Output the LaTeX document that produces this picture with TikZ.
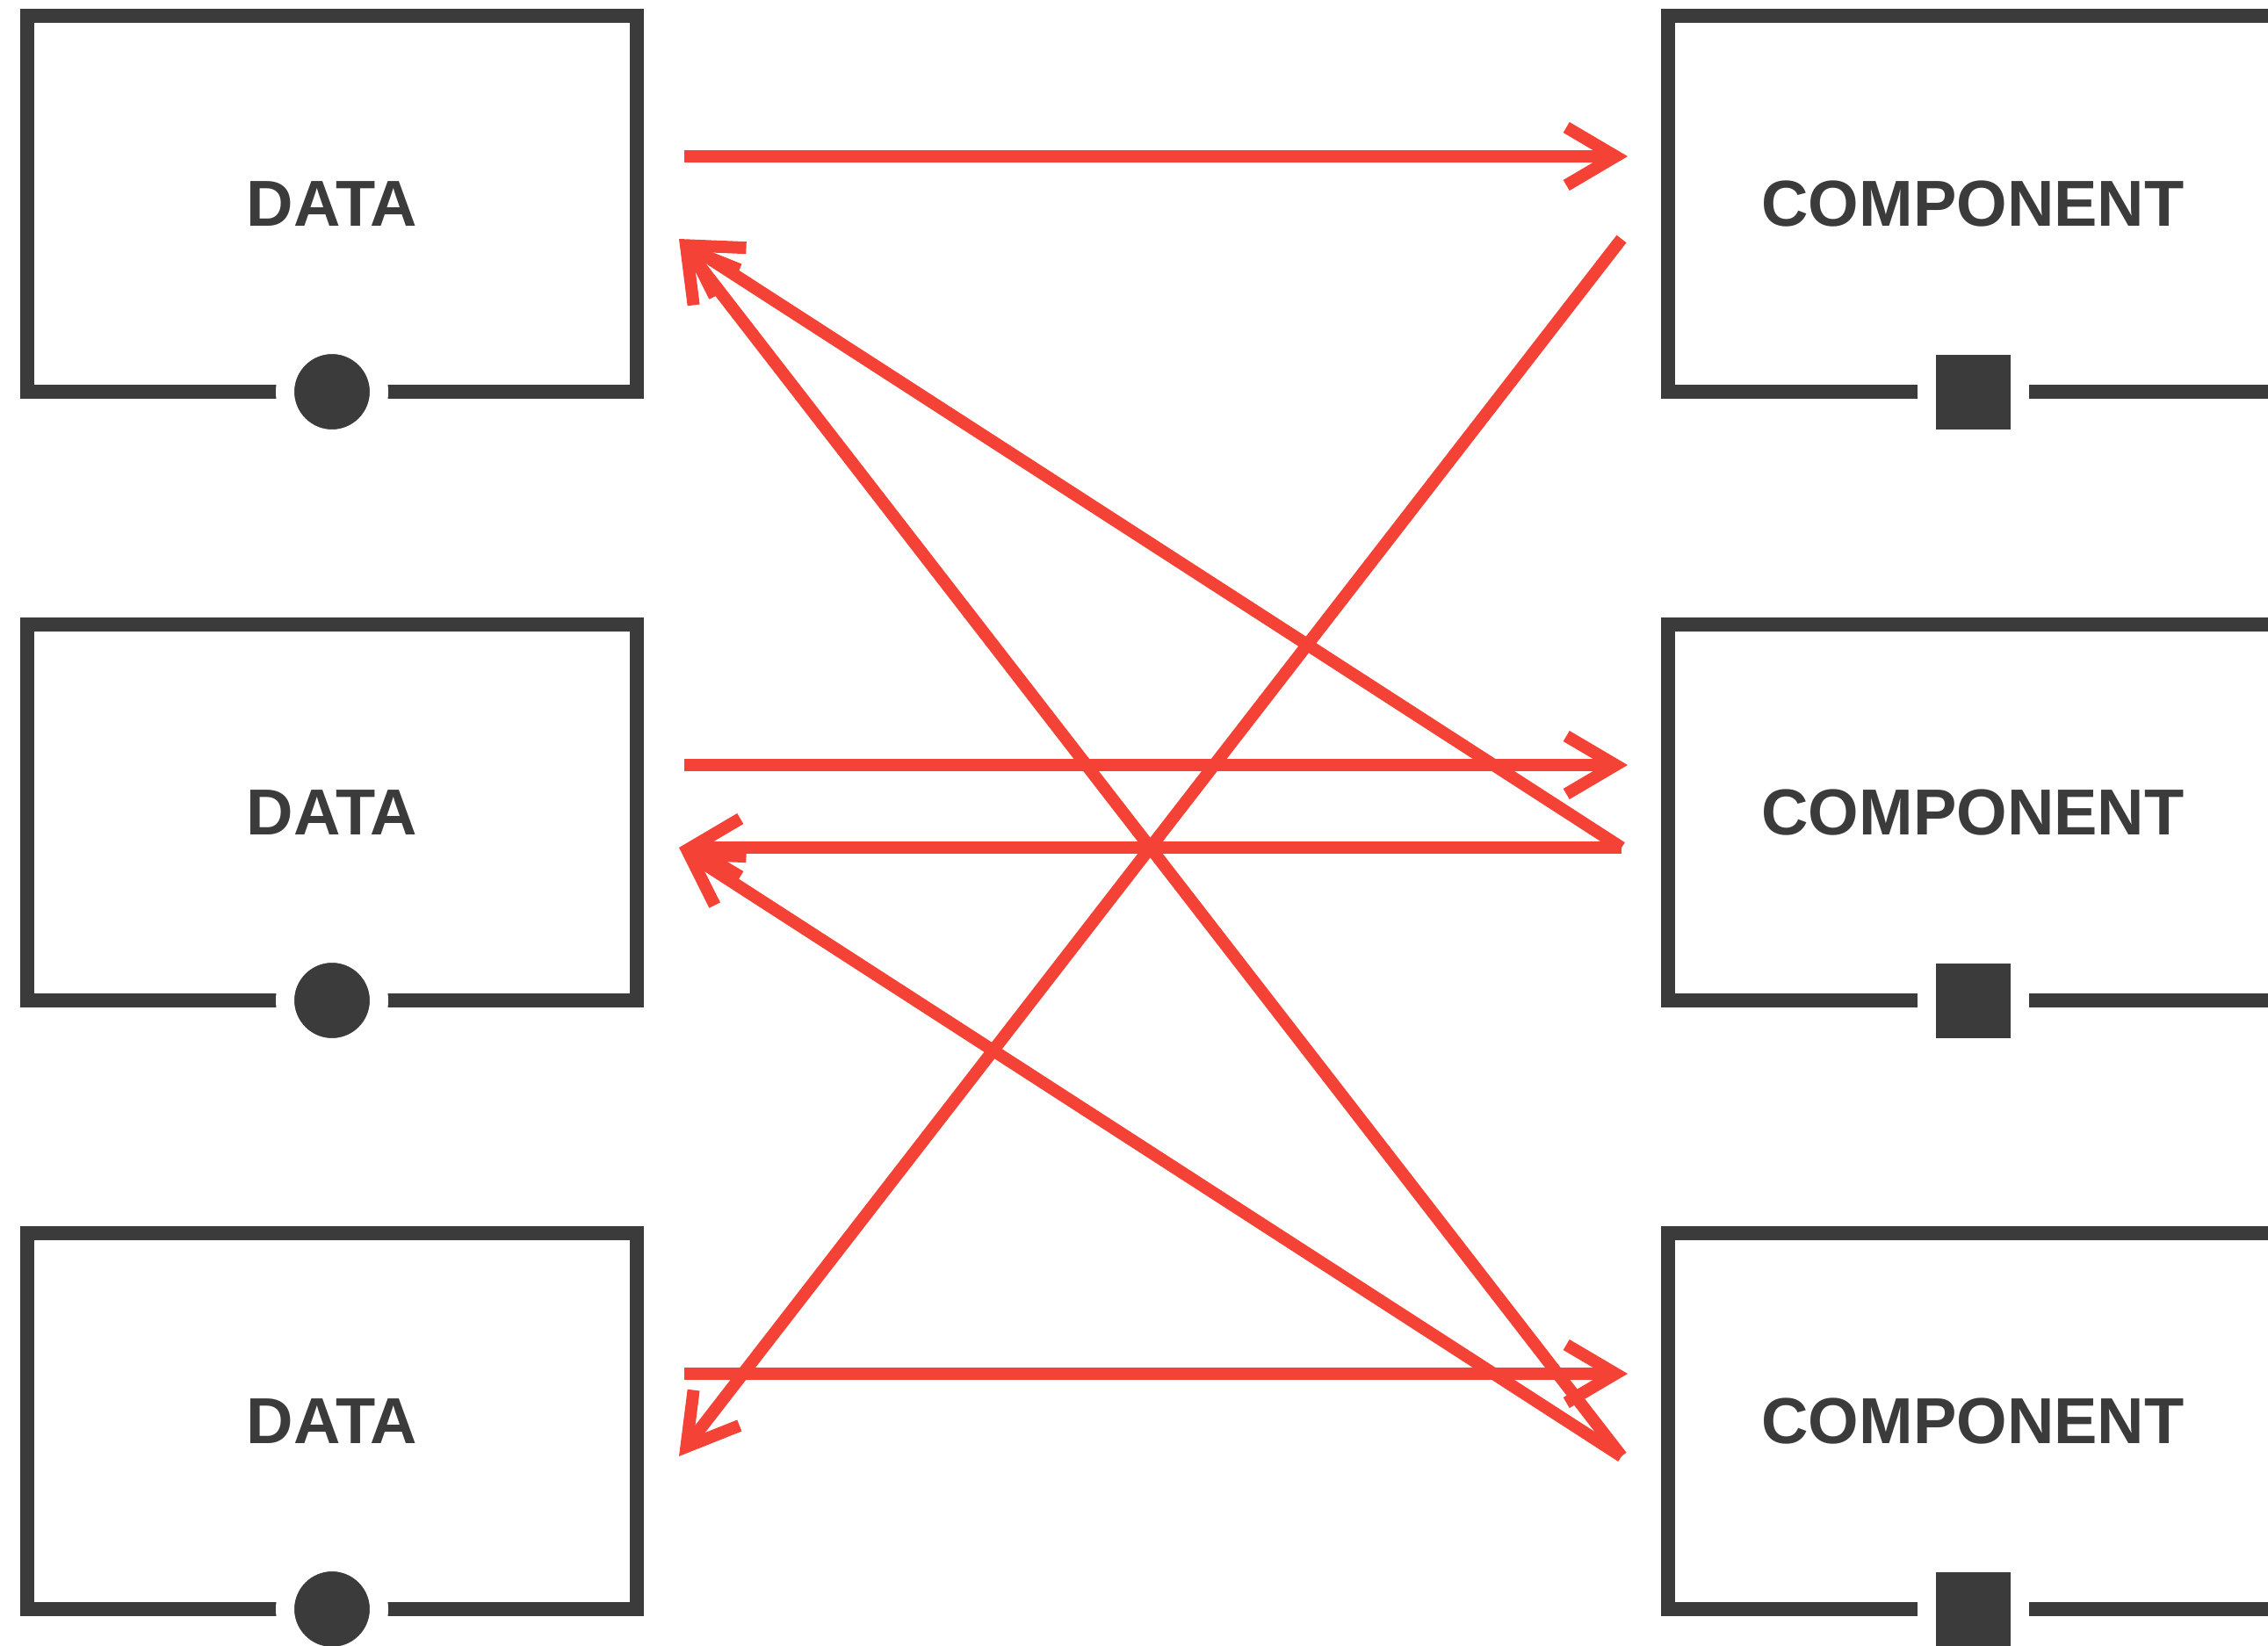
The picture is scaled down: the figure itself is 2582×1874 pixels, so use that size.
\documentclass[tikz,border=0pt]{standalone}
\usepackage{fontspec}
\setmainfont{Liberation Sans}
\usetikzlibrary{arrows.meta}
\definecolor{boxgray}{HTML}{3B3B3B}
\definecolor{flowred}{HTML}{F44336}

\begin{document}
\begin{tikzpicture}[x=0.5pt, y=-0.5pt,
    box/.style={rectangle, draw=boxgray, line width=8pt, outer sep=0pt,
        minimum width=347pt, minimum height=214pt, text=boxgray,
        font=\fontsize{37}{40}\selectfont\bfseries},
    dataport/.style={circle, fill=boxgray, draw=white, line width=10.5pt,
        minimum size=53.5pt, inner sep=0pt},
    compport/.style={rectangle, fill=boxgray, draw=white, line width=10.5pt,
        minimum size=53pt, inner sep=0pt},
    flow/.style={draw=flowred, line width=7pt,
        -{Straight Barb[length=28pt, width=33pt, sharp]}}]
    \useasboundingbox (0,0) rectangle (2582,1874);

    % Data boxes
    \foreach \i in {1,...,3}
        \node[box] (D\i) at (378,{232+693*(\i-1)}) {DATA};

    % Component boxes
    \foreach \i in {1,...,3}
        \node[box] (C\i) at (2246,{232+693*(\i-1)}) {COMPONENT};

    % Ports on the bottom edges
    \foreach \i in {1,...,3} {
        \node[dataport] (DP\i) at (D\i.south) {};
        \node[compport] (CP\i) at (C\i.south) {};
    }

    % Connection points
    \foreach \i in {1,...,3} {
        \coordinate (Do\i) at ([xshift=27pt,yshift=27pt]D\i.east);
        \coordinate (Di\i) at ([xshift=24pt,yshift=-20pt]D\i.east);
        \coordinate (Co\i) at ([xshift=-23pt,yshift=27pt]C\i.west);
        \coordinate (Ci\i) at ([xshift=-26.5pt,yshift=-20pt]C\i.west);
    }

    % Data to component
    \foreach \i in {1,...,3}
        \draw[flow] (Do\i) -- (Co\i);

    % Component back to data
    \foreach \a/\b in {1/3,2/1,2/2,3/1,3/2}
        \draw[flow] (Ci\a) -- (Di\b);
\end{tikzpicture}
\end{document}
